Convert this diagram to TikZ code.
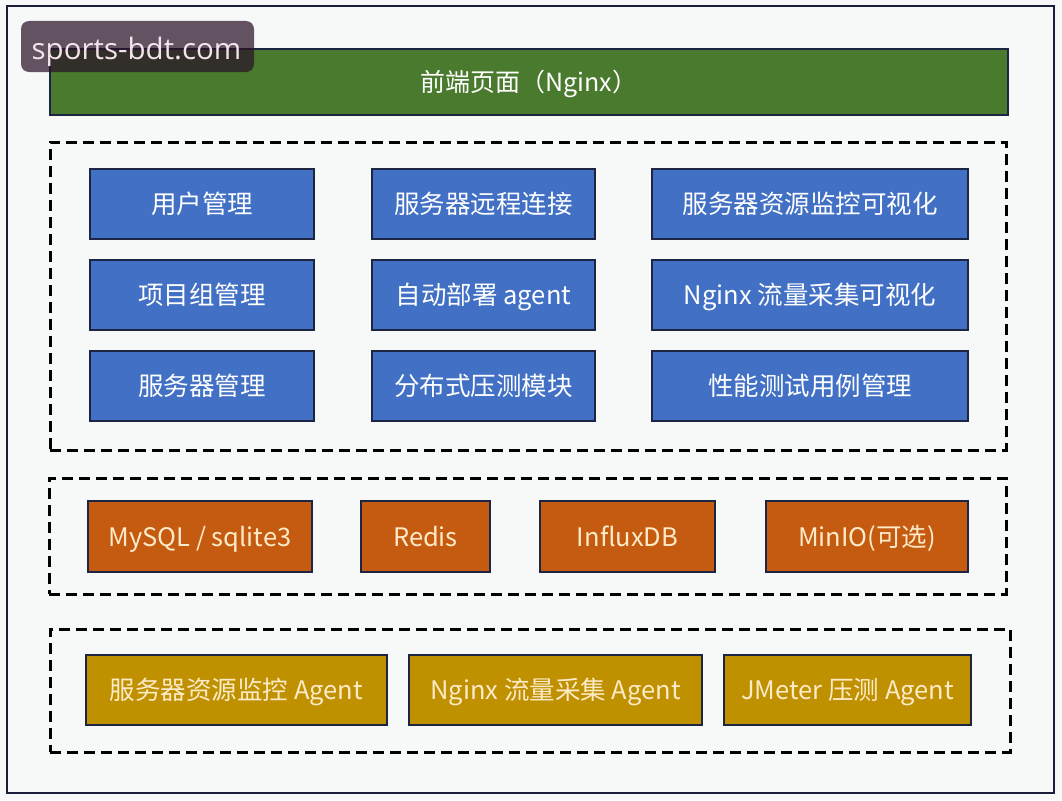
\documentclass[tikz,border=0pt]{standalone}
\usepackage{fontspec}
\setmainfont{Noto Sans CJK SC}
\newfontfamily\wmfont{Open Sans}
\definecolor{bgc}{HTML}{F7F8F8}
\definecolor{framec}{HTML}{1A1F3A}
\definecolor{edgec}{HTML}{1C2642}
\definecolor{greenc}{HTML}{4A7A2E}
\definecolor{bluec}{HTML}{4170C4}
\definecolor{orangec}{HTML}{C55A11}
\definecolor{goldc}{HTML}{BF9000}
\definecolor{creamc}{HTML}{FDEBC8}
\definecolor{wmc}{RGB}{42,18,40}
\definecolor{wmtext}{HTML}{F5E3EC}
\begin{document}
\begin{tikzpicture}[x=1pt,y=-1pt,
  card/.style={draw=edgec, line width=2pt, inner sep=0pt, minimum height=70pt, text height=22.4pt, text depth=3.1pt, font=\fontsize{25.5}{30}\selectfont},
  bluebox/.style={card, fill=bluec, text=white},
  orangebox/.style={card, fill=orangec, text=creamc, minimum height=71pt},
  goldbox/.style={card, fill=goldc, text=creamc},
  group/.style={draw=black, line width=3pt, dash pattern=on 11pt off 6pt, inner sep=0pt}]
\useasboundingbox[fill=bgc] (0,0) rectangle (1062,800);
\node[draw=framec, line width=2pt, minimum width=1047pt, minimum height=787pt, inner sep=0pt] (frame) at (530.5,399.5) {};
% front end
\node[draw=edgec, line width=2pt, fill=greenc, text=white, minimum width=958pt, minimum height=66pt, inner sep=0pt, text height=22pt, text depth=3pt, font=\fontsize{25}{30}\selectfont] (front) at (529,82) {前端页面（Nginx）};
% groups
\node[group, minimum width=956pt, minimum height=308pt] (g1) at (528,296) {};
\node[group, minimum width=957pt, minimum height=116pt] (g2) at (527.5,536) {};
\node[group, minimum width=960pt, minimum height=123pt] (g3) at (530,690.5) {};
% blue modules
\node[bluebox, minimum width=224pt] (b11) at (202,204) {用户管理};
\node[bluebox, minimum width=223pt] (b12) at (483.5,204) {服务器远程连接};
\node[bluebox, minimum width=316pt] (b13) at (810,204) {服务器资源监控可视化};
\node[bluebox, minimum width=224pt] (b21) at (202,294.5) {项目组管理};
\node[bluebox, minimum width=223pt] (b22) at (483.5,294.5) {自动部署 agent};
\node[bluebox, minimum width=316pt] (b23) at (810,294.5) {Nginx 流量采集可视化};
\node[bluebox, minimum width=224pt] (b31) at (202,385.5) {服务器管理};
\node[bluebox, minimum width=223pt] (b32) at (483.5,385.5) {分布式压测模块};
\node[bluebox, minimum width=316pt] (b33) at (810,385.5) {性能测试用例管理};
% storage
\node[orangebox, minimum width=224pt] (s1) at (200,536.5) {MySQL / sqlite3};
\node[orangebox, minimum width=129pt] (s2) at (425.5,536.5) {Redis};
\node[orangebox, minimum width=175pt] (s3) at (627.5,536.5) {InfluxDB};
\node[orangebox, minimum width=202pt] (s4) at (867,536.5) {MinIO(可选)};
% agents
\node[goldbox, minimum width=301pt] (a1) at (236.5,690) {服务器资源监控 Agent};
\node[goldbox, minimum width=293pt] (a2) at (555.5,690) {Nginx 流量采集 Agent};
\node[goldbox, minimum width=247pt] (a3) at (847.5,690) {JMeter 压测 Agent};
% watermark
\node[fill=wmc, fill opacity=0.72, rounded corners=8pt, minimum width=233pt, minimum height=51pt, inner sep=0pt] (wm) at (137.5,46.5) {};
\node[text=wmtext, inner sep=0pt, font=\wmfont\fontsize{29.5}{32}\selectfont] (wmt) at (136.5,52) {sports-bdt.com};
\end{tikzpicture}
\end{document}
